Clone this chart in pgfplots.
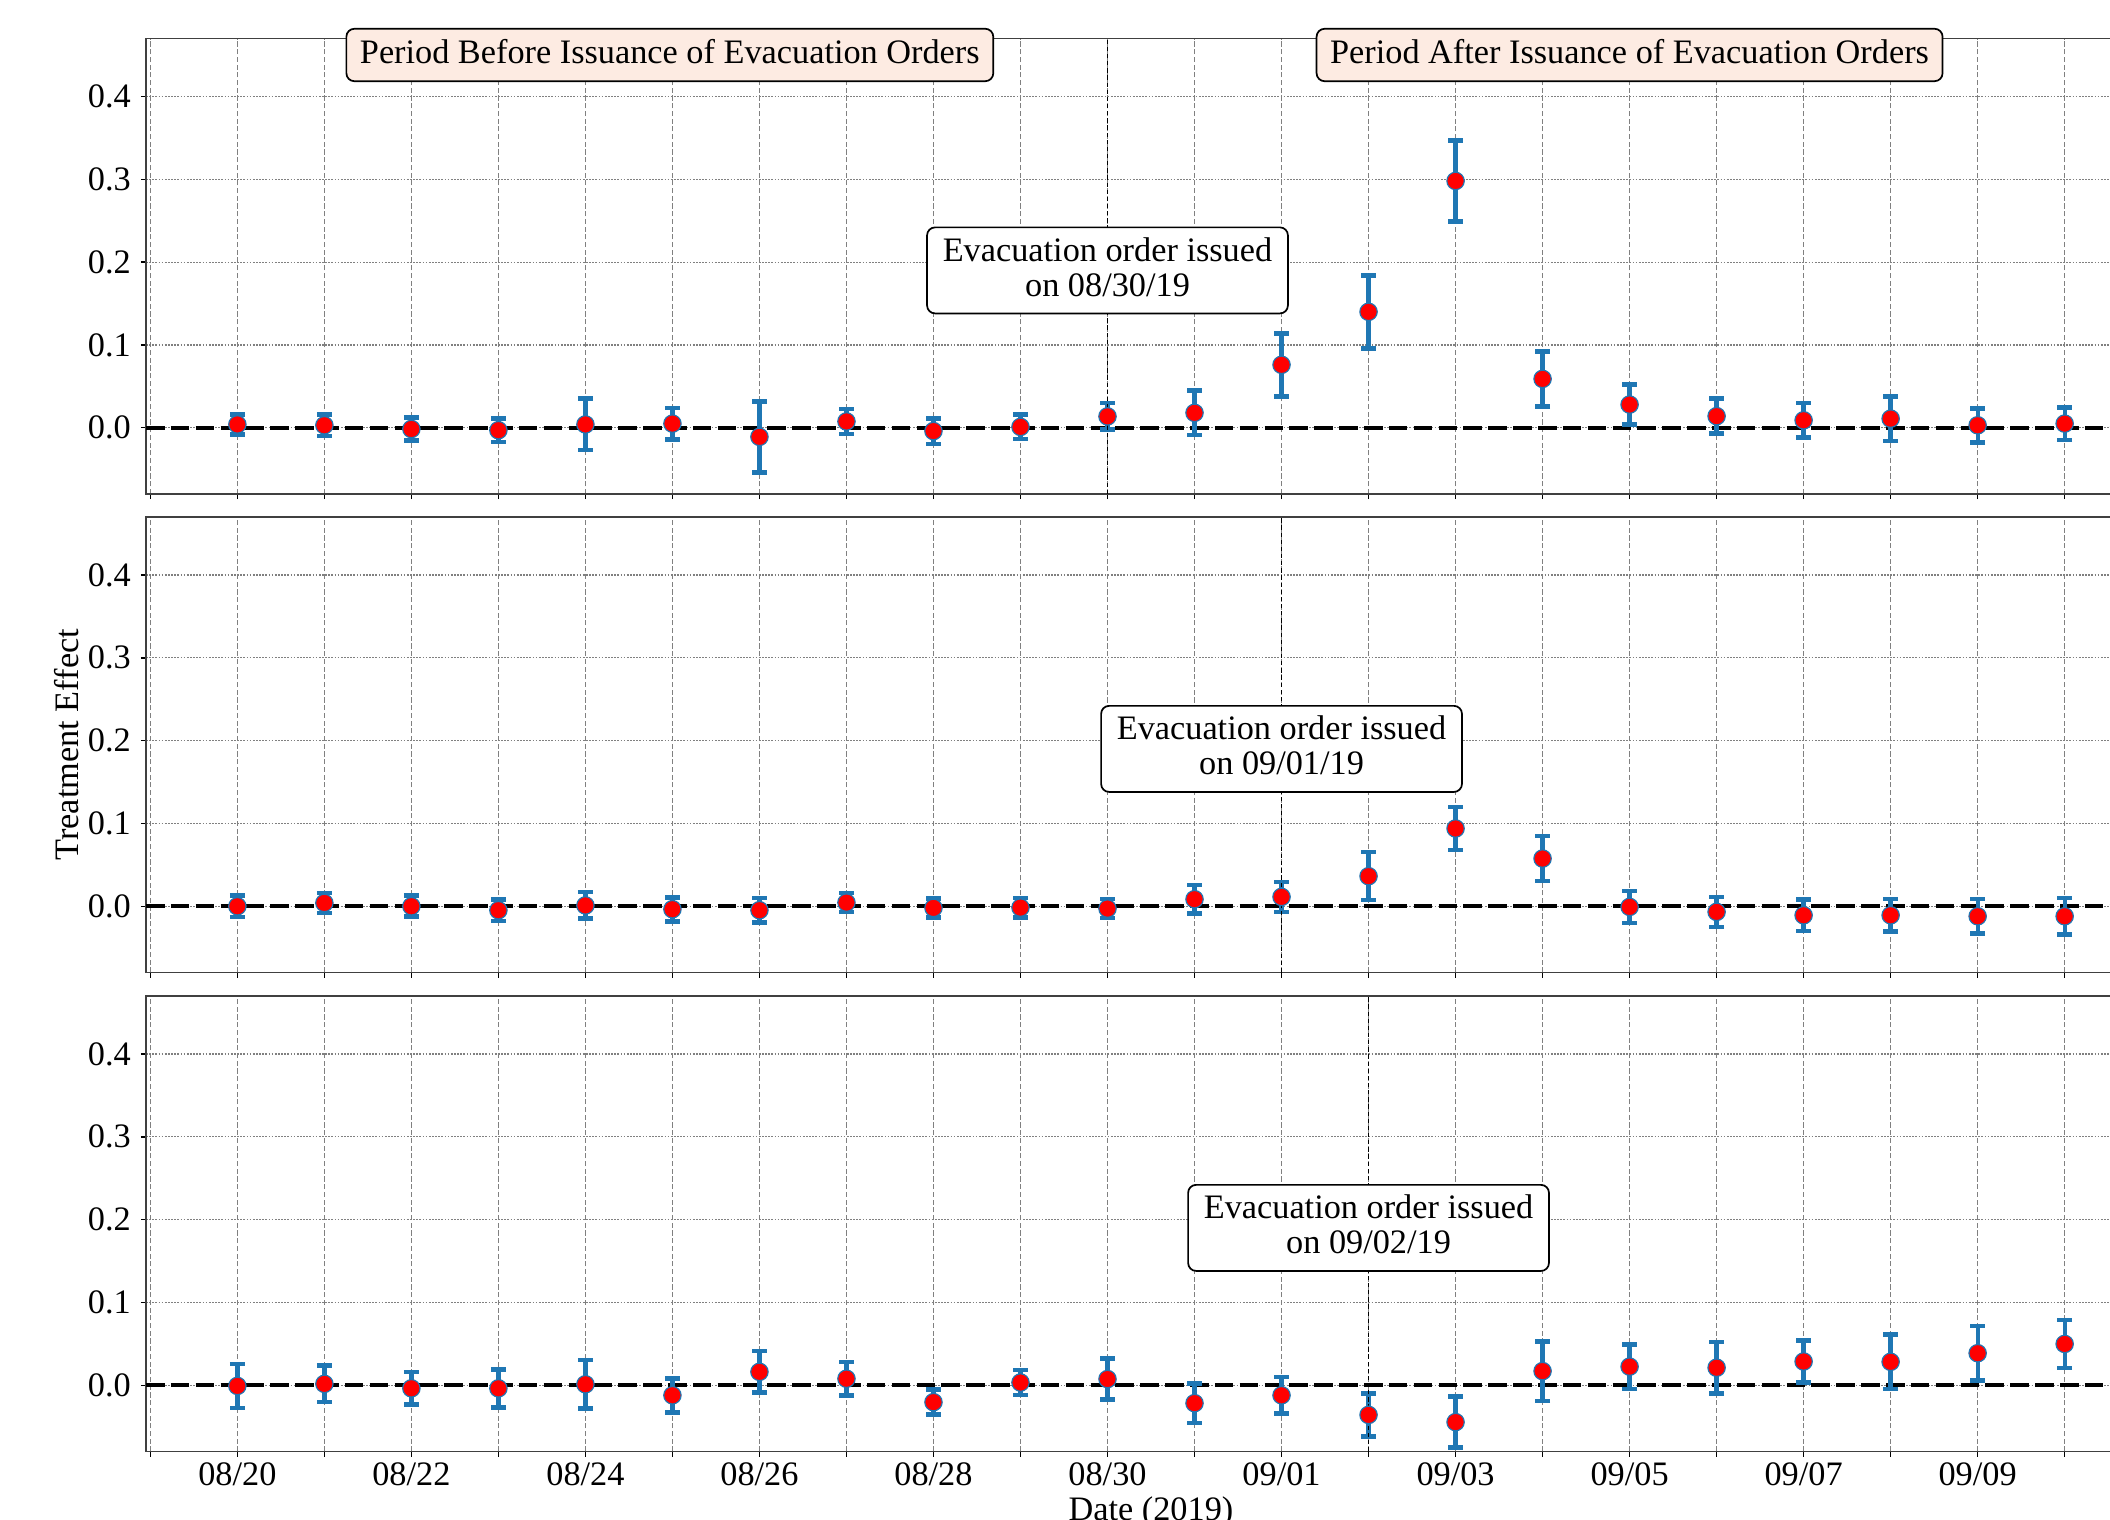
\documentclass[border=0pt]{standalone}
\usepackage{fontspec}
\setmainfont{Liberation Serif}
\usepackage{pgfplots}
\usepackage{pgfplotstable}
\pgfplotsset{compat=1.18}
\definecolor{tabblue}{RGB}{31,119,180}
\definecolor{peach}{RGB}{253,235,226}

\pgfplotstableread{
x y e
0 0.004 0.012
1 0.003 0.013
2 -0.0015 0.014
3 -0.003 0.014
4 0.004 0.031
5 0.005 0.019
6 -0.011 0.043
7 0.0076 0.015
8 -0.004 0.0155
9 0.001 0.0147
10 0.0137 0.016
11 0.018 0.027
12 0.076 0.038
13 0.140 0.044
14 0.298 0.049
15 0.059 0.033
16 0.028 0.024
17 0.014 0.021
18 0.009 0.021
19 0.011 0.027
20 0.003 0.0205
21 0.005 0.0197
}\toptab

\pgfplotstableread{
x y e
0 0.0 0.013
1 0.004 0.012
2 0.0 0.0127
3 -0.0048 0.013
4 0.001 0.016
5 -0.0036 0.0145
6 -0.0048 0.015
7 0.0044 0.0115
8 -0.002 0.0117
9 -0.0016 0.0117
10 -0.0028 0.0115
11 0.0085 0.017
12 0.0113 0.018
13 0.0363 0.029
14 0.0939 0.026
15 0.0576 0.027
16 -0.0008 0.0193
17 -0.0068 0.018
18 -0.0109 0.019
19 -0.0109 0.0195
20 -0.0121 0.021
21 -0.0121 0.022
}\midtab

\pgfplotstableread{
x y e
0 -0.0008 0.0266
1 0.0017 0.022
2 -0.0037 0.0195
3 -0.0037 0.023
4 0.0012 0.0295
5 -0.0121 0.0205
6 0.0162 0.025
7 0.0079 0.020
8 -0.0204 0.015
9 0.0033 0.015
10 0.0075 0.025
11 -0.0216 0.024
12 -0.0121 0.022
13 -0.0358 0.026
14 -0.0445 0.0306
15 0.0171 0.036
16 0.0225 0.027
17 0.0212 0.031
18 0.0287 0.0256
19 0.0283 0.033
20 0.0387 0.033
21 0.0499 0.029
}\bottab

\pgfplotsset{
  panel/.style={
    scale only axis, width=703.5pt, height=159.425pt,
    anchor=south west,
    xmin=-1.05, xmax=22.05, ymin=-0.08, ymax=0.47,
    xtick={0,2,...,20}, minor xtick={-1,1,...,21},
    ytick={0,0.1,0.2,0.3,0.4},
    xmajorgrids, xminorgrids, ymajorgrids,
    major x grid style={black!50, line width=0.4pt, dash pattern=on 1.8pt off 0.9pt},
    minor x grid style={black!50, line width=0.4pt, dash pattern=on 1.8pt off 0.9pt},
    major y grid style={black!50, line width=0.4pt, dash pattern=on 0.6pt off 0.5pt},
    tick align=outside, major tick length=1.8pt, minor tick length=1.8pt,
    tick style={black, line width=0.5pt},
    tick pos=left,
    axis line style={black!75, line width=0.6pt},
    /pgf/number format/assume math mode=true,
    yticklabel style={/pgf/number format/fixed, /pgf/number format/fixed zerofill, /pgf/number format/precision=1},
    xticklabel style={yshift=1.3pt},
    tick label style={font=\fontsize{12}{14}\selectfont},
    label style={font=\fontsize{12}{14}\selectfont},
    clip=false,
  },
  zeroline/.style={black, line width=1.4pt, dash pattern=on 6.5pt off 2.2pt, forget plot},
  evline/.style={black, line width=0.5pt, dash pattern=on 1.5pt off 1pt, forget plot},
  ebars/.style={only marks, mark=none, forget plot,
    error bars/.cd, y dir=both, y explicit, error mark=|,
    error bar style={draw=tabblue, line width=1.5pt},
    error mark options={draw=tabblue, line width=1.6pt, mark size=2.6pt}},
  dots/.style={only marks, mark=*, mark size=3.05pt, mark options={fill=red, draw=tabblue, line width=0.4pt}},
}
\tikzset{
  periodbox/.style={draw=black, fill=peach, rounded corners=2.8pt, line width=0.6pt,
    inner xsep=4.75pt, inner ysep=3.85pt, text depth=2.2pt, font=\fontsize{12}{14}\selectfont},
  evacbox/.style={draw=black, fill=white, rounded corners=2.8pt, line width=0.6pt, align=center,
    inner xsep=5.5pt, inner ysep=3.5pt, text depth=2.5pt, font=\fontsize{12}{12.3}\selectfont},
}

\begin{document}
\begin{tikzpicture}
\useasboundingbox (0,0) rectangle (738.5pt,-532pt);

% top panel
\begin{axis}[panel, at={(51.1pt,-172.9pt)}, xticklabels={}]
\addplot[zeroline] coordinates {(-1.05,0) (22.05,0)};
\addplot[ebars] table[x=x, y=y, y error=e]{\toptab};
\addplot[evline] coordinates {(10,-0.08) (10,0.47)};
\addplot[dots] table[x=x, y=y]{\toptab};
\node[evacbox] at (axis cs:10,0.19) {Evacuation order issued\\on 08/30/19};
\node[periodbox] at (axis cs:4.97,0.4501) {Period Before Issuance of Evacuation Orders};
\node[periodbox] at (axis cs:16.0,0.4501) {Period After Issuance of Evacuation Orders};
\end{axis}

% middle panel
\begin{axis}[panel, at={(51.1pt,-340.375pt)}, xticklabels={},
  ylabel={Treatment Effect},
  ylabel style={at={(axis description cs:-0.0393,0.5)}, anchor=center}]
\addplot[zeroline] coordinates {(-1.05,0) (22.05,0)};
\addplot[ebars] table[x=x, y=y, y error=e]{\midtab};
\addplot[evline] coordinates {(12,-0.08) (12,0.47)};
\addplot[dots] table[x=x, y=y]{\midtab};
\node[evacbox] at (axis cs:12,0.19) {Evacuation order issued\\on 09/01/19};
\end{axis}

% bottom panel
\begin{axis}[panel, at={(51.1pt,-508.025pt)},
  xticklabels={08/20,08/22,08/24,08/26,08/28,08/30,09/01,09/03,09/05,09/07,09/09},
  xlabel={Date (2019)},
  xlabel style={at={(axis description cs:0.5,-0.1504)}, anchor=base}]
\addplot[zeroline] coordinates {(-1.05,0) (22.05,0)};
\addplot[ebars] table[x=x, y=y, y error=e]{\bottab};
\addplot[evline] coordinates {(13,-0.08) (13,0.47)};
\addplot[dots] table[x=x, y=y]{\bottab};
\node[evacbox] at (axis cs:13,0.19) {Evacuation order issued\\on 09/02/19};
\end{axis}
\end{tikzpicture}
\end{document}
